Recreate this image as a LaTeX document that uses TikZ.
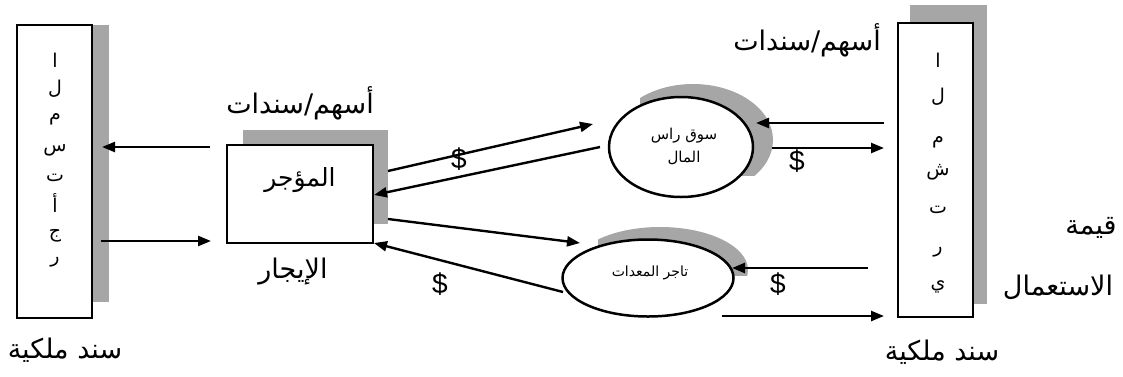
\documentclass[tikz,border=0pt]{standalone}
\usepackage{fontspec}
\setmainfont{Liberation Sans}
\newfontfamily\arabicfont[Script=Arabic]{DejaVu Sans}
\TeXXeTstate=1
\usetikzlibrary{arrows.meta,calc,shapes.geometric}
\newcommand{\ar}[1]{{\arabicfont\beginR #1\endR}}
\tikzset{
  boxline/.style={draw, line width=2.5pt, fill=white},
  shadow/.style={fill=black!35},
  flow/.style={draw, line width=2.4pt, -{Triangle[length=13pt,width=10pt]}},
  letter/.style={font=\fontsize{19}{19}\selectfont, inner sep=0pt},
  label/.style={font=\fontsize{27}{29}\selectfont, inner sep=0pt},
  money/.style={font=\fontsize{28}{28}\selectfont, inner sep=0pt},
}
\begin{document}
\begin{tikzpicture}[x=1pt,y=-1pt]
\useasboundingbox (0,0) rectangle (1123,376);

% shaded edges behind the boxes and ellipses
\fill[shadow] (92,25) rectangle (109,302);
\fill[shadow] (243,130) rectangle (388,146);
\fill[shadow] (372,130) rectangle (388,224);
\fill[shadow] (910,5) rectangle (987,24);
\fill[shadow] (972,5) rectangle (987,304);
\begin{scope}
  \clip (640,70) rectangle (800,175);
  \fill[shadow] (693,140) ellipse [x radius=80, y radius=56];
\end{scope}
\begin{scope}
  \clip (598,220) rectangle (760,275);
  \fill[shadow] (660,270) ellipse [x radius=88, y radius=43];
\end{scope}

% lessee (left column)
\node[boxline, minimum width=75pt, minimum height=293pt, inner sep=0pt] (lessee) at (54.5,171.5) {};
\foreach \l/\y [count=\i] in {ا/60,ل/89,م/119,س/150,ت/178,أ/203,ج/236,ر/262}
  \node[letter] (lessee\i) at (55,\y) {\ar{\l}};
\node[label] (lesseedeed) at (65,350) {\ar{سند ملكية}};

% lessor (middle box)
\node[boxline, minimum width=146pt, minimum height=98pt, inner sep=0pt] (lessor) at (300,194) {};
\node[font=\fontsize{25}{25}\selectfont, inner sep=0pt] (lessorname) at (300,180) {\ar{المؤجر}};
\node[label] (lessorsec) at (300,103) {\ar{أسهم/سندات}};
\node[label] (lease) at (293,272) {\ar{الإيجار}};

% capital market and equipment dealer
\node[draw, line width=2.5pt, fill=white, ellipse, minimum width=144pt, minimum height=100pt, inner sep=0pt] (market) at (681,147) {};
\node[font=\fontsize{15}{23}\selectfont, align=center, inner sep=0pt] (markettext) at (684,146) {\ar{سوق راس}\\\ar{المال}};
\node[draw, line width=2.5pt, fill=white, ellipse, minimum width=171pt, minimum height=77pt, inner sep=0pt] (dealer) at (648,278) {};
\node[font=\fontsize{14}{14}\selectfont, inner sep=0pt] (dealertext) at (650,273) {\ar{تاجر المعدات}};

% buyer (right column)
\node[boxline, minimum width=75pt, minimum height=294pt, inner sep=0pt] (buyer) at (935.5,170) {};
\foreach \l/\y [count=\i] in {ا/60,ل/97,م/142,ش/172,ت/210,ر/252,ي/287}
  \node[letter] (buyer\i) at (938,\y) {\ar{\l}};
\node[label] (buyersec) at (807,40) {\ar{أسهم/سندات}};
\node[label] (buyerdeed) at (942,352) {\ar{سند ملكية}};
\node[label] (value1) at (1091,228) {\ar{قيمة}};
\node[label] (value2) at (1058,287) {\ar{الاستعمال}};

% free ends of the connectors
\coordinate (a1s) at (210,147);  \coordinate (a1e) at (102,147);
\coordinate (a2s) at (101,241);  \coordinate (a2e) at (211,241);
\coordinate (a3s) at (388,171);  \coordinate (a3e) at (593,124);
\coordinate (a4s) at (600,147);  \coordinate (a4e) at (374,195);
\coordinate (a5s) at (388,219);  \coordinate (a5e) at (580,243);
\coordinate (a6s) at (563,292);  \coordinate (a6e) at (374,243);
\coordinate (a7s) at (884,123);  \coordinate (a7e) at (756,123);
\coordinate (a8s) at (772,148);  \coordinate (a8e) at (884,148);
\coordinate (a9s) at (868,268);  \coordinate (a9e) at (732,268);
\coordinate (a10s) at (722,316); \coordinate (a10e) at (884,316);

\foreach \k in {1,...,10}
  \draw[flow] (a\k s) -- (a\k e);

% payment markers
\node[money] (pay1) at (459,159) {\$};
\node[money] (pay2) at (440,284) {\$};
\node[money] (pay3) at (797,161) {\$};
\node[money] (pay4) at (778,284) {\$};
\end{tikzpicture}
\end{document}
